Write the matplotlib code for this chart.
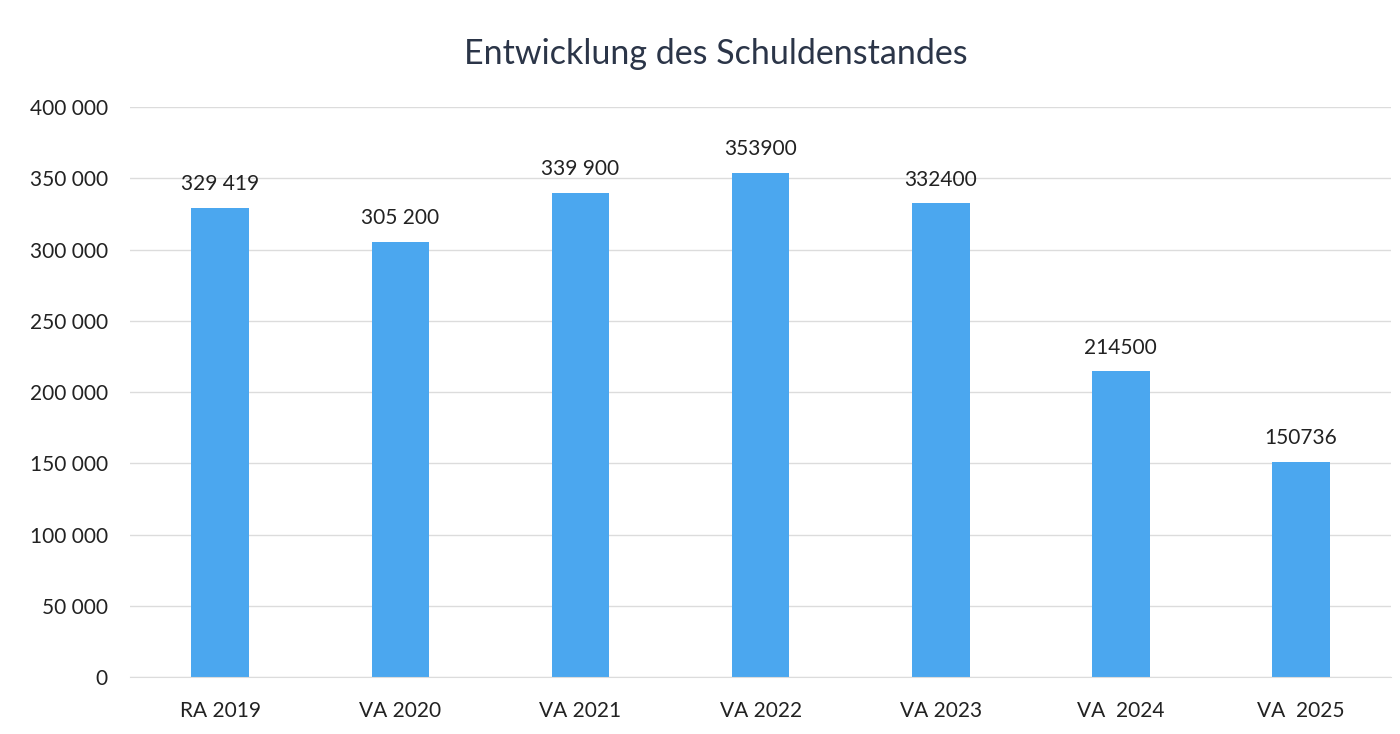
import matplotlib.pyplot as plt
from matplotlib.ticker import FuncFormatter

# data
categories = ["RA 2019", "VA 2020", "VA 2021", "VA 2022", "VA 2023", "VA  2024", "VA  2025"]
values = [329419, 305200, 339900, 353900, 332400, 214500, 150736]
value_labels = ["329 419", "305 200", "339 900", "353900", "332400", "214500", "150736"]
y_ticks = [0, 50000, 100000, 150000, 200000, 250000, 300000, 350000, 400000]

plt.rcParams["font.family"] = ["Lato", "DejaVu Sans"]

BAR_COLOR = "#4BA7EF"
TEXT_COLOR = "#222222"

fig = plt.figure(figsize=(14, 7.34), dpi=100)
ax = fig.add_axes([0.093, 0.0777, 0.9006, 0.7763])

x = range(len(categories))
bars = ax.bar(x, values, width=0.32, color=BAR_COLOR, zorder=2)

for rect, lab in zip(bars, value_labels):
    ax.annotate(lab, xy=(rect.get_x() + rect.get_width() / 2, rect.get_height()),
                xytext=(0, 10), textcoords="offset points",
                ha="center", va="bottom", fontsize=15, color=TEXT_COLOR)

ax.set_xlim(-0.5, len(categories) - 0.5)
ax.set_ylim(0, 400000)
ax.set_yticks(y_ticks)
ax.yaxis.set_major_formatter(FuncFormatter(lambda v, _: f"{int(v):,}".replace(",", " ")))
ax.set_xticks(list(x))
ax.set_xticklabels(categories)

ax.tick_params(axis="both", length=0, labelsize=15, colors=TEXT_COLOR)
ax.tick_params(axis="x", pad=17)
ax.tick_params(axis="y", pad=16)

ax.grid(axis="y", color="#DCDCDC", linewidth=1.0, zorder=0)
for side in ["top", "right", "left"]:
    ax.spines[side].set_visible(False)
ax.spines["bottom"].set_color("#DCDCDC")

fig.text(0.511, 0.927, "Entwicklung des Schuldenstandes", ha="center", va="center",
         fontsize=24.5, color="#2B3548")

fig.savefig("out.png", dpi=100)
